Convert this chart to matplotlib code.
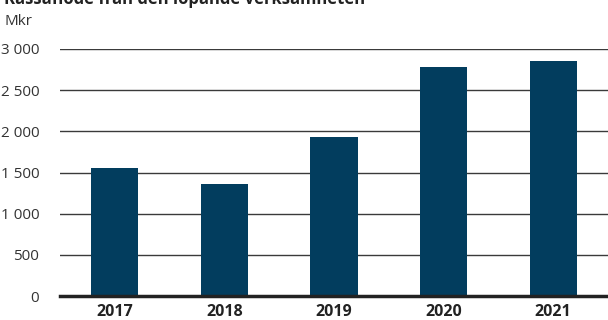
import matplotlib.pyplot as plt
from matplotlib.ticker import FuncFormatter

plt.rcParams['font.family'] = ['Open Sans', 'DejaVu Sans']

# Kassaflöde från den löpande verksamheten, Mkr
years = ['2017', '2018', '2019', '2020', '2021']
values = [1560, 1360, 1930, 2785, 2855]
yticks = [0, 500, 1000, 1500, 2000, 2500, 3000]

fig = plt.figure(figsize=(6.08, 3.2), dpi=100)
ax = fig.add_axes([60 / 608, 24 / 320, 548 / 608, 247 / 320])

ax.bar(range(len(years)), values, width=0.43, color='#023d5e', zorder=3)

ax.set_xlim(-0.5, len(years) - 0.5)
ax.set_ylim(0, 3000)
ax.set_yticks(yticks)
ax.yaxis.set_major_formatter(FuncFormatter(lambda v, p: f'{int(v):,}'.replace(',', ' ')))
ax.set_xticks(range(len(years)))
ax.set_xticklabels(years, fontweight='bold', fontsize=11.5, color='#222222')
ax.tick_params(axis='y', length=0, pad=15, labelsize=11, labelcolor='#333333')
ax.tick_params(axis='x', length=0, pad=6)

ax.grid(axis='y', color='#3a3a3a', linewidth=1.0, zorder=0)
for s in ['top', 'right', 'left']:
    ax.spines[s].set_visible(False)
ax.spines['bottom'].set_color('#222222')
ax.spines['bottom'].set_linewidth(2.5)
ax.spines['bottom'].set_zorder(4)

fig.text(4 / 608, 1 - 3.5 / 320, 'Kassaflöde från den löpande verksamheten',
         fontsize=12, fontweight='bold', color='#222222', va='baseline', ha='left')
fig.text(4 / 608, 1 - 25 / 320, 'Mkr', fontsize=11, color='#333333', va='baseline', ha='left')

fig.savefig('out.png', dpi=100)
